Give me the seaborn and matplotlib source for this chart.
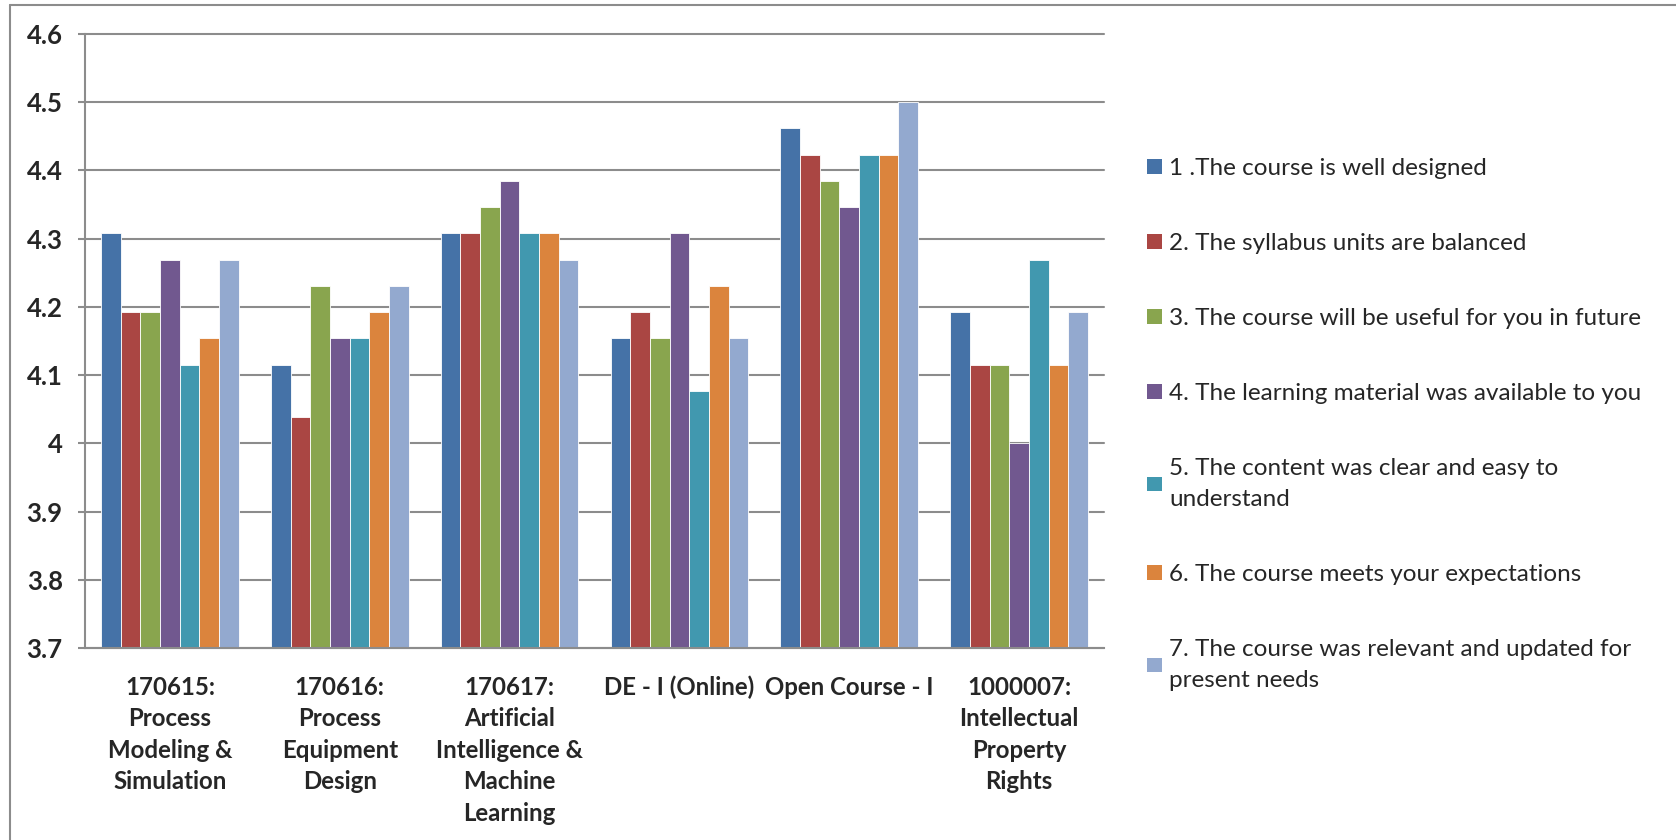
import matplotlib
matplotlib.use("Agg")
import matplotlib.pyplot as plt
import pandas as pd
import seaborn as sns
from matplotlib.lines import Line2D
from matplotlib.patches import Patch

cursos = [
    "170615:\nProcess\nModeling &\nSimulation",
    "170616:\nProcess\nEquipment\nDesign",
    "170617:\nArtificial\nIntelligence &\nMachine\nLearning",
    "DE - I (Online)",
    "Open Course - I",
    "1000007:\nIntellectual\nProperty\nRights",
]
perguntas = [
    "1 .The course is well designed",
    "2. The syllabus units are balanced",
    "3. The course will be useful for you in future",
    "4. The learning material was available to you",
    "5. The content was clear and easy to\nunderstand",
    "6. The course meets your expectations",
    "7. The course was relevant and updated for\npresent needs",
]
# one list per question, values per course
q1 = [4.308, 4.115, 4.308, 4.154, 4.462, 4.192]
q2 = [4.192, 4.038, 4.308, 4.192, 4.423, 4.115]
q3 = [4.192, 4.231, 4.346, 4.154, 4.385, 4.115]
q4 = [4.269, 4.154, 4.385, 4.308, 4.346, 4.000]
q5 = [4.115, 4.154, 4.308, 4.077, 4.423, 4.269]
q6 = [4.154, 4.192, 4.308, 4.231, 4.423, 4.115]
q7 = [4.269, 4.231, 4.269, 4.154, 4.500, 4.192]
yticks = [3.7, 3.8, 3.9, 4.0, 4.1, 4.2, 4.3, 4.4, 4.5, 4.6]
ytick_labels = ["3.7", "3.8", "3.9", "4", "4.1", "4.2", "4.3", "4.4", "4.5", "4.6"]

cores = ["#4572A7", "#AA4643", "#89A54E", "#71588F", "#4198AF", "#DB843D", "#93A9CF"]

linhas = []
for p, vals in zip(perguntas, [q1, q2, q3, q4, q5, q6, q7]):
    for c, v in zip(cursos, vals):
        linhas.append({"curso": c, "pergunta": p, "media": v})
df = pd.DataFrame(linhas)

sns.set_style("white")
plt.rcParams["font.family"] = ["Lato", "DejaVu Sans"]

fig = plt.figure(figsize=(16.76, 8.4), dpi=100)
ax = fig.add_axes([85 / 1676, 1 - 648 / 840, (1104 - 85) / 1676, (648 - 34) / 840])

sns.barplot(
    data=df, x="curso", y="media", hue="pergunta", order=cursos, hue_order=perguntas,
    palette=cores, saturation=1, width=0.81, edgecolor="white", linewidth=0.6,
    legend=False, ax=ax,
)

cinza = "#8c8c8c"
ax.set_ylim(3.7, 4.6)
ax.set_xlim(-0.5, len(cursos) - 0.5)
ax.set_yticks(yticks)
ax.set_yticklabels(ytick_labels, fontsize=18.5, fontweight="bold")
ax.yaxis.grid(True, color=cinza, linewidth=1.5)
ax.set_axisbelow(True)
for g in ax.get_ygridlines():
    g.set_clip_on(False)
ax.set_xlabel("")
ax.set_ylabel("")
for s in ["top", "right"]:
    ax.spines[s].set_visible(False)
for s in ["left", "bottom"]:
    ax.spines[s].set_color(cinza)
    ax.spines[s].set_linewidth(1.5)

ax.set_xticks(range(len(cursos)))
ax.set_xticklabels(cursos, fontsize=17.3, fontweight="bold", linespacing=1.45, va="top")
ax.set_xticks([i - 0.5 for i in range(len(cursos) + 1)], minor=True)
ax.tick_params(axis="x", which="major", length=0, pad=20)
ax.tick_params(axis="x", which="minor", length=6, width=1.5, color=cinza, direction="out")
ax.tick_params(axis="y", length=5, width=1.5, color=cinza, direction="out", pad=11, left=True)

handles = [Patch(facecolor=c, edgecolor="none") for c in cores]
leg = fig.legend(
    handles, perguntas, loc="upper left",
    bbox_to_anchor=(1147 / 1676, 1 - 158 / 840), frameon=False, fontsize=17.5,
    handlelength=0.62, handleheight=0.55, handletextpad=0.3,
    labelspacing=2.22, borderpad=0, borderaxespad=0,
)
for t in leg.get_texts():
    t.set_linespacing(1.6)

# moldura externa
fig.add_artist(Line2D([10 / 1676, 1], [1 - 5 / 840, 1 - 5 / 840], color=cinza, linewidth=1.5))
fig.add_artist(Line2D([10 / 1676, 10 / 1676], [0, 1 - 5 / 840], color=cinza, linewidth=1.5))

plt.savefig("out.png", dpi=100)
plt.close()
